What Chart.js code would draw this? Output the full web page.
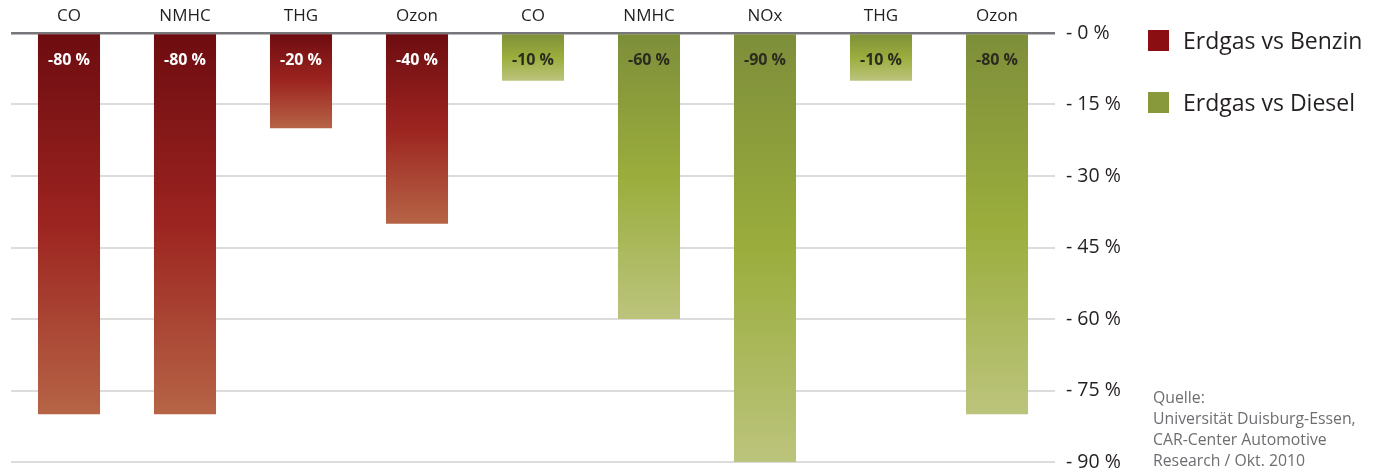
<!DOCTYPE html>
<html>
<head>
<meta charset="utf-8">
<script src="https://cdn.jsdelivr.net/npm/chart.js@4/dist/chart.umd.min.js"></script>
<style>
  body { margin: 0; background: #fff; }
  canvas { display: block; }
</style>
</head>
<body>
<canvas id="emissionChart" width="1383" height="475"></canvas>
<script>
const categories = ['CO', 'NMHC', 'THG', 'Ozon', 'CO', 'NMHC', 'NOx', 'THG', 'Ozon'];
const benzinValues = [-80, -80, -20, -40, null, null, null, null, null];
const dieselValues = [null, null, null, null, -10, -60, -90, -10, -80];
const seriesNames = ['Erdgas vs Benzin', 'Erdgas vs Diesel'];
const sourceLines = ['Quelle:', 'Universität Duisburg-Essen,', 'CAR-Center Automotive', 'Research / Okt. 2010'];

const FONT = "'Open Sans', 'Noto Sans', sans-serif";
const TEXT = '#231f20';

// gradient stops per bar (top of bar -> bottom of bar)
const redStops = ['#6d0c10', '#9c2420', '#b66446'];
const greenStops = ['#7d8e3a', '#9aad3c', '#bcc47c'];
const legendColors = ['#8b0f12', '#88993c'];

function barGradient(stops, solid) {
    return function (context) {
        const chart = context.chart;
        if (context.type !== 'data' || context.raw == null || !chart.chartArea) return solid;
        const y = chart.scales.y;
        const top = y.getPixelForValue(0);
        const bottom = y.getPixelForValue(context.raw);
        if (bottom - top < 1) return solid;
        const g = chart.ctx.createLinearGradient(0, top, 0, bottom);
        g.addColorStop(0, stops[0]);
        g.addColorStop(0.5, stops[1]);
        g.addColorStop(1, stops[2]);
        return g;
    };
}

// value labels inside the bars
const valueLabels = {
    id: 'valueLabels',
    afterDatasetsDraw(chart) {
        const ctx = chart.ctx;
        ctx.save();
        ctx.font = 'bold 16px ' + FONT;
        ctx.textAlign = 'center';
        ctx.textBaseline = 'middle';
        chart.data.datasets.forEach((ds, i) => {
            const meta = chart.getDatasetMeta(i);
            ctx.fillStyle = i === 0 ? '#ffffff' : '#2b2b20';
            meta.data.forEach((bar, j) => {
                const v = ds.data[j];
                if (v == null) return;
                ctx.fillText(v + ' %', bar.x, bar.base + 26);
            });
        });
        ctx.restore();
    }
};

// legend and source note on the right side
const sideNotes = {
    id: 'sideNotes',
    afterDraw(chart) {
        const ctx = chart.ctx;
        const area = chart.chartArea;
        const left = area.right + 93;
        ctx.save();
        ctx.textBaseline = 'middle';
        ctx.textAlign = 'left';
        ctx.font = '23px ' + FONT;
        chart.data.datasets.forEach((ds, i) => {
            const cy = area.top + 8 + i * 62;
            ctx.fillStyle = legendColors[i];
            ctx.fillRect(left, cy - 11, 21, 21);
            ctx.fillStyle = TEXT;
            ctx.fillText(ds.label, left + 35, cy + 1);
        });
        ctx.font = '15.8px ' + FONT;
        ctx.fillStyle = '#6d6e71';
        sourceLines.forEach((line, i) => {
            ctx.fillText(line, left + 5, area.bottom - 64 + i * 21);
        });
        ctx.restore();
    }
};

const ctx = document.getElementById('emissionChart').getContext('2d');

const data = {
    labels: categories,
    datasets: [
        {
            label: seriesNames[0],
            data: benzinValues,
            backgroundColor: barGradient(redStops, legendColors[0]),
            borderWidth: 0
        },
        {
            label: seriesNames[1],
            data: dieselValues,
            backgroundColor: barGradient(greenStops, legendColors[1]),
            borderWidth: 0
        }
    ]
};

const config = {
    type: 'bar',
    data: data,
    options: {
        responsive: false,
        animation: false,
        skipNull: true,
        categoryPercentage: 1,
        barPercentage: 0.535,
        layout: {
            padding: { left: 11, right: 258, top: 0, bottom: 13 }
        },
        plugins: {
            legend: { display: false },
            tooltip: { enabled: false }
        },
        scales: {
            x: {
                position: 'top',
                grid: { display: false, drawTicks: false },
                border: { display: false },
                ticks: {
                    color: TEXT,
                    padding: 7,
                    font: { family: FONT, size: 17 }
                },
                afterFit(scale) { scale.height = 33; }
            },
            y: {
                position: 'right',
                min: -90,
                max: 0,
                border: { display: false },
                grid: {
                    drawTicks: false,
                    color: c => c.tick && c.tick.value === 0 ? '#77777b' : '#dcdcdc',
                    lineWidth: c => c.tick && c.tick.value === 0 ? 2.5 : 2
                },
                ticks: {
                    stepSize: 15,
                    color: TEXT,
                    padding: 11,
                    font: { family: FONT, size: 19.5 },
                    callback: v => '- ' + Math.abs(v) + ' %'
                },
                afterFit(scale) {
                    scale.width = 70;
                    scale.paddingTop = 0;
                    scale.paddingBottom = 0;
                }
            }
        }
    },
    plugins: [valueLabels, sideNotes]
};

new Chart(ctx, config);
</script>
</body>
</html>
